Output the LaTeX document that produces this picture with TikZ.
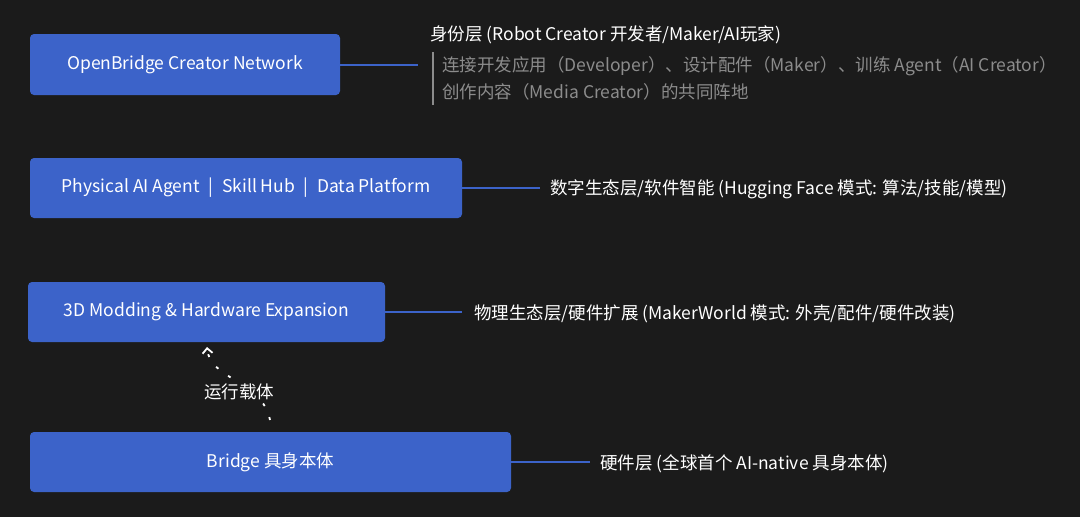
\documentclass[tikz,border=0pt]{standalone}
\usepackage{fontspec}
\usetikzlibrary{arrows.meta}
\setmainfont{Noto Sans CJK SC}
\begin{document}
\begin{tikzpicture}[x=1pt,y=-1pt,
  box/.style={fill=boxblue,draw=none,rounded corners=4pt,text=white,font=\fontsize{17.5}{20}\selectfont},
  lnk/.style={draw=boxblue,line width=2pt},
  lbl/.style={text=white,anchor=west,font=\fontsize{17.5}{20}\selectfont,inner sep=0pt},
  gray/.style={text=graytext,anchor=west,font=\fontsize{17.5}{20}\selectfont,inner sep=0pt}]
\definecolor{boxblue}{HTML}{3C63C9}
\definecolor{bg}{HTML}{1B1B1B}
\definecolor{graytext}{HTML}{8C8C8C}
\fill[bg] (0,0) rectangle (1080,517);
\useasboundingbox (0,0) rectangle (1080,517);
\node[box,minimum width=310pt,minimum height=61pt] (b1) at (185,64.5) {OpenBridge Creator Network};
\node[box,minimum width=432pt,minimum height=60pt] (b2) at (246,188) {Physical AI Agent\enspace|\enspace Skill Hub\enspace|\enspace Data Platform};
\node[box,minimum width=357pt,minimum height=60pt] (b3) at (206.5,312) {3D Modding \& Hardware Expansion};
\node[box,minimum width=481pt,minimum height=60pt] (b4) at (270.5,462) {Bridge 具身本体};
\coordinate (e1) at (418,64.5);
\coordinate (e2) at (540,188);
\coordinate (e3) at (462,312);
\coordinate (e4) at (590,462);
\draw[lnk] (b1.east) -- (e1);
\draw[lnk] (b2.east) -- (e2);
\draw[lnk] (b3.east) -- (e3);
\draw[lnk] (b4.east) -- (e4);
\node[lbl] (t1) at (430,35) {身份层 (Robot Creator 开发者/Maker/AI玩家)};
\draw[graytext,line width=2pt] (433,52) -- (433,105);
\node[gray] (g1) at (442,66) {连接开发应用（Developer）、设计配件（Maker）、训练 Agent（AI Creator）};
\node[gray] (g2) at (442,92) {创作内容（Media Creator）的共同阵地};
\node[lbl] (t2) at (550,189) {数字生态层/软件智能 (Hugging Face 模式: 算法/技能/模型)};
\node[lbl] (t3) at (474,314) {物理生态层/硬件扩展 (MakerWorld 模式: 外壳/配件/硬件改装)};
\node[lbl] (t4) at (600,464) {硬件层 (全球首个 AI-native 具身本体)};
\coordinate (a0) at (270,420);
\coordinate (a1) at (207,347);
\draw[white,line width=1.8pt,dash pattern=on 3pt off 12pt,-{Straight Barb[length=5pt,width=10pt]}] (a0) .. controls (262,380) and (210,380) .. (a1);
\node[fill=bg,text=white,font=\fontsize{17.5}{20}\selectfont,inner sep=2pt] (lab) at (239,392) {运行载体};
\end{tikzpicture}
\end{document}
